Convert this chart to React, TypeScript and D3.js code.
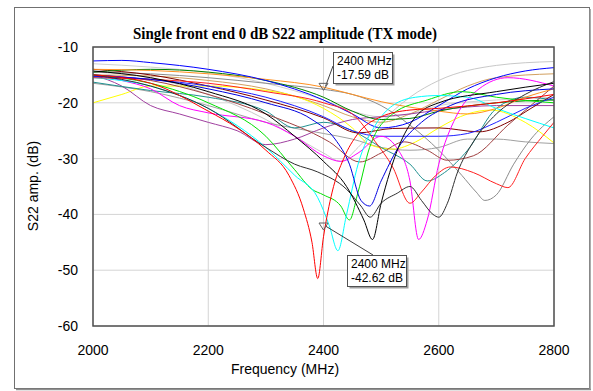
import React from "react";
import * as d3 from "d3";

type P = [number, number];

const xTicks = [2000, 2200, 2400, 2600, 2800];
const yTicks = [-10, -20, -30, -40, -50, -60];

const blue1: P[] = [[2000,-12.5],[2050,-12.4],[2100,-12.8],[2200,-14],[2300,-16],[2400,-19.5],[2450,-22],[2500,-24.5],[2550,-23.5],[2600,-20.5],[2650,-17.5],[2700,-15.5],[2750,-14.3],[2800,-13.7]];
const blue2: P[] = [[2000,-15],[2100,-15.8],[2200,-17],[2300,-19],[2400,-22.5],[2450,-25],[2500,-26],[2550,-26],[2600,-26],[2650,-25.5],[2700,-23.5],[2750,-21],[2800,-19]];
const blue3: P[] = [[2000,-15.3],[2100,-15.8],[2200,-17.5],[2300,-20],[2380,-23],[2420,-26.5],[2445,-31],[2465,-37.5],[2480,-38.5],[2500,-34],[2530,-28],[2570,-23.5],[2620,-20.5],[2700,-18.5],[2800,-17.5]];
const orange: P[] = [[2000,-14],[2100,-14.2],[2200,-14.8],[2300,-15.8],[2400,-17.2],[2450,-18.5],[2500,-19.8],[2600,-21.5],[2650,-22],[2700,-21],[2750,-19],[2800,-17.5]];
const lightGray1: P[] = [[2000,-14.5],[2100,-15.5],[2200,-18.5],[2300,-23],[2350,-26],[2400,-29],[2430,-30.5],[2460,-28],[2500,-23.5],[2550,-19],[2600,-16],[2700,-13.3],[2800,-12.6]];
const lightGray2: P[] = [[2000,-13],[2100,-13.6],[2200,-14.6],[2300,-16.5],[2400,-19.5],[2450,-21.5],[2500,-22.5],[2550,-22],[2600,-20.5],[2700,-19.5],[2800,-19]];
const gray1: P[] = [[2000,-14.5],[2100,-14.8],[2200,-15.5],[2300,-16.5],[2400,-17.59],[2450,-18.5],[2500,-20.5],[2550,-24],[2600,-28.5],[2640,-33],[2665,-36],[2680,-37.5],[2700,-36.5],[2730,-31],[2760,-26.5],[2800,-22.5]];
const gray2: P[] = [[2000,-16.5],[2100,-18],[2200,-20.5],[2300,-23.5],[2400,-25.5],[2450,-26.5],[2500,-28],[2550,-28.5],[2600,-28],[2650,-26.5],[2700,-26.5],[2750,-27],[2800,-27.3]];
const red1: P[] = [[2000,-15],[2100,-16.5],[2200,-21.5],[2250,-24.5],[2300,-28.5],[2340,-33],[2365,-39],[2380,-45],[2390,-51.5],[2400,-44],[2415,-36],[2435,-30],[2460,-25.5],[2500,-22.5],[2550,-21.3],[2600,-21],[2700,-20],[2800,-18.5]];
const red2: P[] = [[2000,-15.5],[2100,-15.8],[2200,-16.5],[2300,-18],[2400,-20],[2450,-22],[2490,-27],[2520,-31.5],[2550,-38],[2570,-36],[2595,-33],[2620,-31.5],[2660,-32.5],[2700,-34.5],[2720,-35.2],[2750,-30],[2780,-26],[2800,-23.5]];
const cyan: P[] = [[2000,-15.5],[2100,-17],[2200,-21],[2300,-28],[2350,-33],[2390,-37],[2410,-42],[2425,-46.5],[2440,-40],[2460,-31],[2490,-24],[2520,-20.5],[2560,-19],[2600,-18.7],[2650,-19],[2700,-21],[2800,-24.5]];
const green: P[] = [[2000,-15],[2100,-16.5],[2200,-20],[2300,-26],[2350,-32],[2380,-35.5],[2400,-36.5],[2430,-38.5],[2445,-41],[2460,-36],[2480,-28],[2520,-22],[2580,-19.5],[2640,-18],[2700,-19],[2800,-20]];
const darkGreen: P[] = [[2000,-14.5],[2100,-14],[2200,-14.5],[2300,-16],[2400,-19],[2450,-21.5],[2500,-23],[2550,-22.8],[2600,-21.5],[2700,-20],[2800,-19.5]];
const black1: P[] = [[2000,-14.3],[2100,-15.5],[2200,-18],[2300,-22],[2350,-26],[2400,-30.5],[2440,-35],[2470,-41],[2485,-44.5],[2500,-38],[2530,-28],[2560,-22.5],[2600,-20],[2700,-18],[2800,-16.5]];
const black2: P[] = [[2000,-15],[2100,-17],[2200,-21],[2300,-28],[2350,-31],[2390,-32.4],[2440,-35.5],[2465,-38.5],[2481,-40.5],[2500,-38],[2528,-36.2],[2550,-35],[2570,-37.5],[2590,-40],[2600,-40.5],[2615,-38],[2632,-32.6],[2660,-27],[2700,-22],[2750,-18.5],[2800,-16.2]];
const magenta: P[] = [[2000,-15],[2050,-16],[2100,-17.5],[2150,-20.5],[2200,-21.8],[2300,-23.5],[2350,-26],[2400,-29.5],[2430,-30.5],[2460,-29],[2500,-26],[2530,-28.5],[2550,-34],[2565,-44.5],[2580,-41],[2600,-31],[2630,-22.5],[2670,-17.5],[2720,-15.5],[2800,-17]];
const purple: P[] = [[2000,-15],[2050,-17],[2100,-20.5],[2150,-22],[2200,-23.5],[2250,-25],[2300,-27.5],[2350,-26.5],[2400,-24.5],[2450,-23],[2500,-22.5],[2550,-22],[2600,-21.3],[2700,-20.5],[2800,-20.5]];
const teal: P[] = [[2000,-16.3],[2100,-17.8],[2200,-19],[2300,-21.5],[2350,-24.5],[2400,-23.5],[2450,-25],[2500,-28],[2550,-31],[2580,-34],[2610,-32.5],[2650,-28.5],[2700,-21],[2750,-19],[2800,-19.5]];
const brown1: P[] = [[2000,-14],[2100,-15],[2200,-17],[2300,-19.5],[2400,-22.7],[2460,-25.4],[2520,-24.6],[2600,-24.5],[2670,-25.2],[2720,-23.5],[2760,-21],[2800,-18.5]];
const brown2: P[] = [[2000,-15],[2100,-16],[2200,-18.5],[2300,-22],[2410,-27],[2463,-30.6],[2500,-29],[2540,-27],[2580,-28.5],[2615,-30.3],[2660,-29.5],[2720,-24],[2800,-17]];
const yellow: P[] = [[2000,-20],[2050,-18.5],[2100,-17],[2200,-17],[2300,-17.8],[2350,-18.8],[2400,-21],[2450,-24.5],[2480,-27.5],[2520,-28.3],[2560,-27],[2600,-24.5],[2650,-22],[2690,-21.3],[2750,-23.5],[2800,-27.2]];
const tan: P[] = [[2000,-15],[2100,-15.2],[2200,-16],[2300,-17.5],[2400,-20.5],[2450,-22.5],[2500,-23.5],[2550,-22],[2600,-19.5],[2650,-17],[2700,-15.5],[2800,-14.8]];

const seriesList: { data: P[]; color: string }[] = [
  { data: lightGray1, color: "#c8c8c8" },
  { data: lightGray2, color: "#d0d0d0" },
  { data: gray2, color: "#a0a0a0" },
  { data: gray1, color: "#8c8c8c" },
  { data: tan, color: "#d2a060" },
  { data: yellow, color: "#ffff00" },
  { data: purple, color: "#a040a0" },
  { data: teal, color: "#209090" },
  { data: brown1, color: "#800000" },
  { data: brown2, color: "#a04040" },
  { data: darkGreen, color: "#008000" },
  { data: orange, color: "#ff9020" },
  { data: blue2, color: "#2020ff" },
  { data: blue1, color: "#0000ff" },
  { data: magenta, color: "#ff00ff" },
  { data: green, color: "#00e000" },
  { data: cyan, color: "#00ffff" },
  { data: red2, color: "#ff2020" },
  { data: blue3, color: "#0000e0" },
  { data: black2, color: "#303030" },
  { data: black1, color: "#000000" },
  { data: red1, color: "#ff0000" },
];

const markers = [
  { f: 2400, db: -17.59, label1: "2400 MHz", label2: "-17.59 dB", bx: 333, by: 52, lx: 333, ly: 66 },
  { f: 2400, db: -42.62, label1: "2400 MHz", label2: "-42.62 dB", bx: 347, by: 255, lx: 373, ly: 255 },
];

const L = 93, R = 554, T = 47, B = 326;

export default function App() {
  const x = d3.scaleLinear().domain([2000, 2800]).range([L, R]);
  const y = d3.scaleLinear().domain([-60, -10]).range([B, T]);
  const line = d3.line<P>().x(d => x(d[0])).y(d => y(d[1])).curve(d3.curveMonotoneX);
  const font = "'Liberation Sans', Arial, sans-serif";
  return (
    <svg width={593} height={391} style={{ position: "absolute", left: 0, top: 0, background: "#fff" }}>
      <rect x={0} y={0} width={593} height={391} fill="#fff" />
      <rect x={14.5} y={7.5} width={575} height={381} fill="none" stroke="#707070" strokeWidth={1} />
      <line x1={590} y1={9} x2={590} y2={390} stroke="#909090" strokeWidth={1.5} />
      <line x1={16} y1={389.5} x2={591} y2={389.5} stroke="#909090" strokeWidth={1.5} />
      <text x={285} y={39} textAnchor="middle" fontFamily="'Liberation Serif', 'Times New Roman', serif" fontWeight="bold" fontSize={16.5} textLength={304} lengthAdjust="spacingAndGlyphs">
        Single front end 0 dB S22 amplitude (TX mode)
      </text>
      <defs>
        <clipPath id="plotClip">
          <rect x={L} y={T} width={R - L} height={B - T} />
        </clipPath>
      </defs>
      {xTicks.map(t => (
        <line key={"gx" + t} x1={x(t)} x2={x(t)} y1={T} y2={B} stroke="#d4d4d4" strokeWidth={1} />
      ))}
      {yTicks.map(t => (
        <line key={"gy" + t} x1={L} x2={R} y1={y(t)} y2={y(t)} stroke="#d4d4d4" strokeWidth={1} />
      ))}
      <g clipPath="url(#plotClip)">
        {seriesList.map((s, i) => (
          <path key={i} d={line(s.data) || ""} fill="none" stroke={s.color} strokeWidth={1} />
        ))}
      </g>
      <rect x={L} y={T} width={R - L} height={B - T} fill="none" stroke="#505050" strokeWidth={1.5} />
      {yTicks.map(t => (
        <text key={"ty" + t} x={78} y={y(t) + 5} textAnchor="end" fontFamily={font} fontSize={14}>
          {t}
        </text>
      ))}
      {xTicks.map(t => (
        <text key={"tx" + t} x={x(t)} y={355} textAnchor="middle" fontFamily={font} fontSize={14}>
          {t}
        </text>
      ))}
      <text x={285} y={374} textAnchor="middle" fontFamily={font} fontSize={14}>Frequency (MHz)</text>
      <text transform="translate(38,186) rotate(-90)" textAnchor="middle" fontFamily={font} fontSize={14}>S22 amp. (dB)</text>
      {markers.map((m, i) => {
        const px = x(m.f), py = y(m.db);
        return (
          <g key={"m" + i}>
            <line x1={m.lx} y1={m.ly} x2={px + 2} y2={py - 3} stroke="#404040" strokeWidth={1} />
            <path d={`M${px - 4.5},${py - 6} L${px + 4.5},${py - 6} L${px},${py + 1} Z`} fill="none" stroke="#606060" strokeWidth={1} />
            <rect x={m.bx + 2.5} y={m.by + 2.5} width={59} height={31} fill="#a0a0a0" />
            <rect x={m.bx + 0.5} y={m.by + 0.5} width={59} height={31} fill="#fff" stroke="#505050" strokeWidth={1} />
            <text x={m.bx + 4} y={m.by + 13} fontFamily={font} fontSize={12}>{m.label1}</text>
            <text x={m.bx + 4} y={m.by + 27} fontFamily={font} fontSize={12}>{m.label2}</text>
          </g>
        );
      })}
    </svg>
  );
}
